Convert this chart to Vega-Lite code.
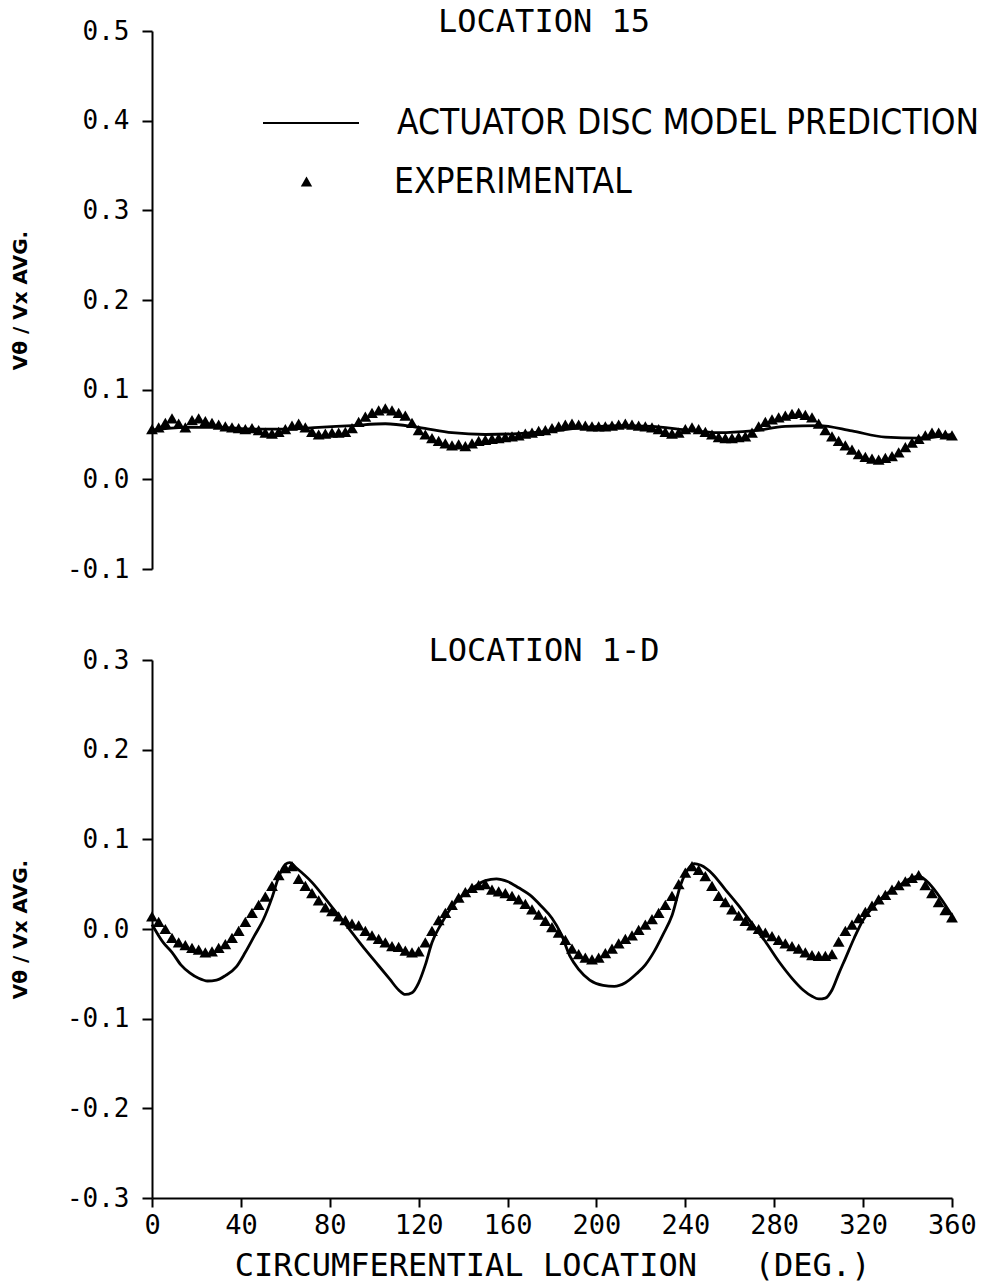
{
  "$schema": "https://vega.github.io/schema/vega-lite/v6.json",
  "background": "white",
  "padding": {"left": 10, "top": 6, "right": 5, "bottom": 5},
  "config": {
    "font": "DejaVu Sans Mono",
    "view": {"stroke": null},
    "axis": {
      "domainColor": "black", "domainWidth": 2, "tickColor": "black", "tickWidth": 2, "tickSize": 10,
      "labelColor": "black", "titleColor": "black", "grid": false, "labelPadding": 13, "labelFlush": false,
      "labelExpr": "replace(datum.label, '\u2212', '-')"
    },
    "legend": {"labelColor": "black", "labelLimit": 1000}
  },
  "datasets": {
    "topModel": [
      {"deg":0,"v":0.055},{"deg":15,"v":0.058},{"deg":30,"v":0.058},{"deg":45,"v":0.056},{"deg":60,"v":0.056},
      {"deg":75,"v":0.058},{"deg":90,"v":0.06},{"deg":105,"v":0.062},{"deg":120,"v":0.058},{"deg":135,"v":0.052},
      {"deg":150,"v":0.05},{"deg":165,"v":0.051},{"deg":180,"v":0.054},{"deg":195,"v":0.058},{"deg":210,"v":0.06},
      {"deg":225,"v":0.059},{"deg":240,"v":0.055},{"deg":255,"v":0.052},{"deg":270,"v":0.054},{"deg":285,"v":0.059},
      {"deg":300,"v":0.06},{"deg":315,"v":0.054},{"deg":330,"v":0.047},{"deg":345,"v":0.046},{"deg":360,"v":0.05}
    ],
    "topExp": [
      {"deg":0,"v":0.056},{"deg":3,"v":0.058},{"deg":6,"v":0.063},{"deg":9,"v":0.068},{"deg":12,"v":0.062},
      {"deg":15,"v":0.058},{"deg":18,"v":0.066},{"deg":21,"v":0.068},{"deg":24,"v":0.065},{"deg":27,"v":0.063},
      {"deg":30,"v":0.061},{"deg":33,"v":0.059},{"deg":36,"v":0.058},{"deg":39,"v":0.057},{"deg":42,"v":0.056},
      {"deg":45,"v":0.057},{"deg":48,"v":0.055},{"deg":51,"v":0.052},{"deg":54,"v":0.051},{"deg":57,"v":0.053},
      {"deg":60,"v":0.056},{"deg":63,"v":0.06},{"deg":66,"v":0.062},{"deg":69,"v":0.058},{"deg":72,"v":0.053},
      {"deg":75,"v":0.05},{"deg":78,"v":0.051},{"deg":81,"v":0.052},{"deg":84,"v":0.052},{"deg":87,"v":0.053},
      {"deg":90,"v":0.057},{"deg":93,"v":0.064},{"deg":96,"v":0.07},{"deg":99,"v":0.074},{"deg":102,"v":0.077},
      {"deg":105,"v":0.079},{"deg":108,"v":0.077},{"deg":111,"v":0.074},{"deg":114,"v":0.071},{"deg":117,"v":0.063},
      {"deg":120,"v":0.055},{"deg":123,"v":0.05},{"deg":126,"v":0.046},{"deg":129,"v":0.043},{"deg":132,"v":0.04},
      {"deg":135,"v":0.038},{"deg":138,"v":0.039},{"deg":141,"v":0.037},{"deg":144,"v":0.04},{"deg":147,"v":0.043},
      {"deg":150,"v":0.044},{"deg":153,"v":0.045},{"deg":156,"v":0.046},{"deg":159,"v":0.047},{"deg":162,"v":0.048},
      {"deg":165,"v":0.049},{"deg":168,"v":0.051},{"deg":171,"v":0.052},{"deg":174,"v":0.054},{"deg":177,"v":0.055},
      {"deg":180,"v":0.057},{"deg":183,"v":0.059},{"deg":186,"v":0.061},{"deg":189,"v":0.062},{"deg":192,"v":0.061},
      {"deg":195,"v":0.06},{"deg":198,"v":0.059},{"deg":201,"v":0.059},{"deg":204,"v":0.059},{"deg":207,"v":0.06},
      {"deg":210,"v":0.061},{"deg":213,"v":0.062},{"deg":216,"v":0.061},{"deg":219,"v":0.06},{"deg":222,"v":0.059},
      {"deg":225,"v":0.058},{"deg":228,"v":0.056},{"deg":231,"v":0.053},{"deg":234,"v":0.051},{"deg":237,"v":0.052},
      {"deg":240,"v":0.056},{"deg":243,"v":0.058},{"deg":246,"v":0.056},{"deg":249,"v":0.053},{"deg":252,"v":0.05},
      {"deg":255,"v":0.047},{"deg":258,"v":0.046},{"deg":261,"v":0.046},{"deg":264,"v":0.047},{"deg":267,"v":0.048},
      {"deg":270,"v":0.052},{"deg":273,"v":0.059},{"deg":276,"v":0.064},{"deg":279,"v":0.067},{"deg":282,"v":0.069},
      {"deg":285,"v":0.071},{"deg":288,"v":0.073},{"deg":291,"v":0.074},{"deg":294,"v":0.072},{"deg":297,"v":0.069},
      {"deg":300,"v":0.062},{"deg":303,"v":0.055},{"deg":306,"v":0.048},{"deg":309,"v":0.043},{"deg":312,"v":0.038},
      {"deg":315,"v":0.033},{"deg":318,"v":0.028},{"deg":321,"v":0.025},{"deg":324,"v":0.023},{"deg":327,"v":0.022},
      {"deg":330,"v":0.024},{"deg":333,"v":0.026},{"deg":336,"v":0.03},{"deg":339,"v":0.036},{"deg":342,"v":0.041},
      {"deg":345,"v":0.045},{"deg":348,"v":0.049},{"deg":351,"v":0.052},{"deg":354,"v":0.052},{"deg":357,"v":0.05},
      {"deg":360,"v":0.049}
    ],
    "botModel": [
      {"deg":0,"v":0.005},{"deg":5,"v":-0.015},{"deg":9,"v":-0.026},{"deg":13,"v":-0.04},{"deg":17,"v":-0.049},
      {"deg":21,"v":-0.055},{"deg":25,"v":-0.058},{"deg":29,"v":-0.057},{"deg":33,"v":-0.052},{"deg":38,"v":-0.042},
      {"deg":42,"v":-0.026},{"deg":46,"v":-0.008},{"deg":50,"v":0.01},{"deg":54,"v":0.035},{"deg":57,"v":0.058},
      {"deg":60,"v":0.072},{"deg":62,"v":0.074},{"deg":65,"v":0.068},{"deg":72,"v":0.052},{"deg":78,"v":0.034},
      {"deg":84,"v":0.015},{"deg":90,"v":-0.004},{"deg":96,"v":-0.023},{"deg":102,"v":-0.041},{"deg":107,"v":-0.056},
      {"deg":111,"v":-0.068},{"deg":114,"v":-0.073},{"deg":117,"v":-0.071},{"deg":120,"v":-0.06},{"deg":123,"v":-0.04},
      {"deg":126,"v":-0.015},{"deg":130,"v":0.005},{"deg":135,"v":0.025},{"deg":140,"v":0.038},{"deg":145,"v":0.047},
      {"deg":150,"v":0.054},{"deg":155,"v":0.056},{"deg":160,"v":0.053},{"deg":165,"v":0.046},{"deg":170,"v":0.038},
      {"deg":175,"v":0.026},{"deg":180,"v":0.012},{"deg":184,"v":-0.005},{"deg":188,"v":-0.03},{"deg":192,"v":-0.045},
      {"deg":197,"v":-0.057},{"deg":203,"v":-0.063},{"deg":208,"v":-0.064},{"deg":213,"v":-0.06},{"deg":218,"v":-0.05},
      {"deg":222,"v":-0.04},{"deg":226,"v":-0.025},{"deg":230,"v":-0.006},{"deg":234,"v":0.015},{"deg":238,"v":0.05},
      {"deg":241,"v":0.066},{"deg":244,"v":0.073},{"deg":247,"v":0.071},{"deg":252,"v":0.062},{"deg":258,"v":0.044},
      {"deg":264,"v":0.026},{"deg":270,"v":0.006},{"deg":276,"v":-0.014},{"deg":282,"v":-0.036},{"deg":288,"v":-0.055},
      {"deg":293,"v":-0.068},{"deg":297,"v":-0.075},{"deg":300,"v":-0.078},{"deg":303,"v":-0.077},{"deg":306,"v":-0.068},
      {"deg":309,"v":-0.05},{"deg":312,"v":-0.033},{"deg":316,"v":-0.01},{"deg":320,"v":0.01},{"deg":325,"v":0.026},
      {"deg":330,"v":0.038},{"deg":336,"v":0.048},{"deg":341,"v":0.056},{"deg":345,"v":0.059},{"deg":350,"v":0.05},
      {"deg":355,"v":0.034},{"deg":360,"v":0.015}
    ],
    "botExp": [
      {"deg":0,"v":0.014},{"deg":3,"v":0.008},{"deg":6,"v":0.0},{"deg":9,"v":-0.01},{"deg":12,"v":-0.015},
      {"deg":15,"v":-0.018},{"deg":18,"v":-0.021},{"deg":21,"v":-0.023},{"deg":24,"v":-0.026},{"deg":27,"v":-0.025},
      {"deg":30,"v":-0.021},{"deg":33,"v":-0.017},{"deg":36,"v":-0.01},{"deg":39,"v":-0.002},{"deg":42,"v":0.008},
      {"deg":45,"v":0.018},{"deg":48,"v":0.027},{"deg":51,"v":0.036},{"deg":54,"v":0.048},{"deg":57,"v":0.06},
      {"deg":60,"v":0.068},{"deg":63,"v":0.07},{"deg":66,"v":0.056},{"deg":69,"v":0.048},{"deg":72,"v":0.04},
      {"deg":75,"v":0.032},{"deg":78,"v":0.024},{"deg":81,"v":0.02},{"deg":84,"v":0.014},{"deg":87,"v":0.01},
      {"deg":90,"v":0.006},{"deg":93,"v":0.004},{"deg":96,"v":-0.002},{"deg":99,"v":-0.007},{"deg":102,"v":-0.011},
      {"deg":105,"v":-0.015},{"deg":108,"v":-0.019},{"deg":111,"v":-0.02},{"deg":114,"v":-0.024},{"deg":117,"v":-0.026},
      {"deg":120,"v":-0.025},{"deg":123,"v":-0.015},{"deg":126,"v":-0.002},{"deg":129,"v":0.01},{"deg":132,"v":0.018},
      {"deg":135,"v":0.027},{"deg":138,"v":0.035},{"deg":141,"v":0.041},{"deg":144,"v":0.046},{"deg":147,"v":0.049},
      {"deg":150,"v":0.05},{"deg":153,"v":0.044},{"deg":156,"v":0.042},{"deg":159,"v":0.04},{"deg":162,"v":0.037},
      {"deg":165,"v":0.033},{"deg":168,"v":0.028},{"deg":171,"v":0.022},{"deg":174,"v":0.016},{"deg":177,"v":0.009},
      {"deg":180,"v":0.002},{"deg":183,"v":-0.004},{"deg":186,"v":-0.012},{"deg":189,"v":-0.022},{"deg":192,"v":-0.028},
      {"deg":195,"v":-0.032},{"deg":198,"v":-0.034},{"deg":201,"v":-0.032},{"deg":204,"v":-0.027},{"deg":207,"v":-0.022},
      {"deg":210,"v":-0.016},{"deg":213,"v":-0.011},{"deg":216,"v":-0.007},{"deg":219,"v":-0.001},{"deg":222,"v":0.005},
      {"deg":225,"v":0.011},{"deg":228,"v":0.018},{"deg":231,"v":0.027},{"deg":234,"v":0.037},{"deg":237,"v":0.05},
      {"deg":240,"v":0.063},{"deg":243,"v":0.07},{"deg":246,"v":0.066},{"deg":249,"v":0.059},{"deg":252,"v":0.048},
      {"deg":255,"v":0.037},{"deg":258,"v":0.03},{"deg":261,"v":0.022},{"deg":264,"v":0.015},{"deg":267,"v":0.009},
      {"deg":270,"v":0.004},{"deg":273,"v":0.0},{"deg":276,"v":-0.004},{"deg":279,"v":-0.008},{"deg":282,"v":-0.012},
      {"deg":285,"v":-0.016},{"deg":288,"v":-0.019},{"deg":291,"v":-0.022},{"deg":294,"v":-0.026},{"deg":297,"v":-0.029},
      {"deg":300,"v":-0.03},{"deg":303,"v":-0.03},{"deg":306,"v":-0.028},{"deg":309,"v":-0.014},{"deg":312,"v":-0.002},
      {"deg":315,"v":0.005},{"deg":318,"v":0.012},{"deg":321,"v":0.019},{"deg":324,"v":0.026},{"deg":327,"v":0.033},
      {"deg":330,"v":0.038},{"deg":333,"v":0.044},{"deg":336,"v":0.049},{"deg":339,"v":0.053},{"deg":342,"v":0.057},
      {"deg":345,"v":0.06},{"deg":348,"v":0.049},{"deg":351,"v":0.04},{"deg":354,"v":0.03},{"deg":357,"v":0.021},
      {"deg":360,"v":0.013}
    ]
  },
  "resolve": {"scale": {"x": "independent", "y": "independent", "color": "independent", "shape": "independent"}},
  "spacing": 53,
  "vconcat": [
    {
      "width": 800,
      "height": 538,
      "title": {"text": "LOCATION 15", "fontSize": 32, "fontWeight": "normal", "color": "black", "anchor": "middle", "frame": "group", "baseline": "middle", "offset": -36, "dx": -8},
      "layer": [
        {
          "data": {"name": "topModel"},
          "mark": {"type": "line", "color": "black", "strokeWidth": 2.8, "interpolate": "monotone"},
          "encoding": {
            "x": {"field": "deg", "type": "quantitative", "scale": {"domain": [0, 360], "nice": false}, "axis": null},
            "y": {"field": "v", "type": "quantitative", "scale": {"domain": [-0.1, 0.5], "nice": false},
                  "axis": {"values": [-0.1, 0, 0.1, 0.2, 0.3, 0.4, 0.5], "format": ".1f", "labelFontSize": 26, "title": "Vθ / Vx AVG.", "titleFontSize": 20, "titleFont": "DejaVu Sans", "titleFontWeight": "bold", "titlePadding": 36}},
            "color": {"datum": "ACTUATOR DISC MODEL PREDICTION", "scale": {"range": ["black"]},
                      "legend": {"orient": "none", "legendX": 110, "legendY": 43, "title": null, "padding": 0, "symbolType": "stroke", "symbolSize": 9216, "symbolStrokeWidth": 2, "symbolStrokeColor": "black", "labelFont": "DejaVu Sans Condensed", "labelFontSize": 35, "labelOffset": 37}}
          }
        },
        {
          "data": {"name": "topExp"},
          "mark": {"type": "point", "shape": "triangle-up", "filled": true, "color": "black", "opacity": 1, "size": 140},
          "encoding": {
            "x": {"field": "deg", "type": "quantitative"},
            "y": {"field": "v", "type": "quantitative"},
            "shape": {"datum": "EXPERIMENTAL", "scale": {"range": ["triangle-up"]},
                      "legend": {"orient": "none", "legendX": 137, "legendY": 133, "title": null, "padding": 0, "symbolSize": 130, "symbolFillColor": "black", "symbolStrokeColor": "black", "labelFont": "DejaVu Sans Condensed", "labelFontSize": 35, "labelOffset": 70}}
          }
        }
      ]
    },
    {
      "width": 800,
      "height": 538,
      "title": {"text": "LOCATION 1-D", "fontSize": 32, "fontWeight": "normal", "color": "black", "anchor": "middle", "frame": "group", "baseline": "middle", "offset": -36, "dx": -8},
      "layer": [
        {
          "data": {"name": "botModel"},
          "mark": {"type": "line", "color": "black", "strokeWidth": 2.8, "interpolate": "monotone"},
          "encoding": {
            "x": {"field": "deg", "type": "quantitative", "scale": {"domain": [0, 360], "nice": false},
                  "axis": {"values": [0, 40, 80, 120, 160, 200, 240, 280, 320, 360], "labelFontSize": 27, "tickSize": 9, "labelPadding": 5, "title": "CIRCUMFERENTIAL LOCATION\u00a0\u00a0\u00a0(DEG.)", "titleFontSize": 32, "titleFontWeight": "normal", "titlePadding": 12}},
            "y": {"field": "v", "type": "quantitative", "scale": {"domain": [-0.3, 0.3], "nice": false},
                  "axis": {"values": [-0.3, -0.2, -0.1, 0, 0.1, 0.2, 0.3], "format": ".1f", "labelFontSize": 26, "title": "Vθ / Vx AVG.", "titleFontSize": 20, "titleFont": "DejaVu Sans", "titleFontWeight": "bold", "titlePadding": 36}}
          }
        },
        {
          "data": {"name": "botExp"},
          "mark": {"type": "point", "shape": "triangle-up", "filled": true, "color": "black", "opacity": 1, "size": 140},
          "encoding": {
            "x": {"field": "deg", "type": "quantitative"},
            "y": {"field": "v", "type": "quantitative"}
          }
        }
      ]
    }
  ]
}
